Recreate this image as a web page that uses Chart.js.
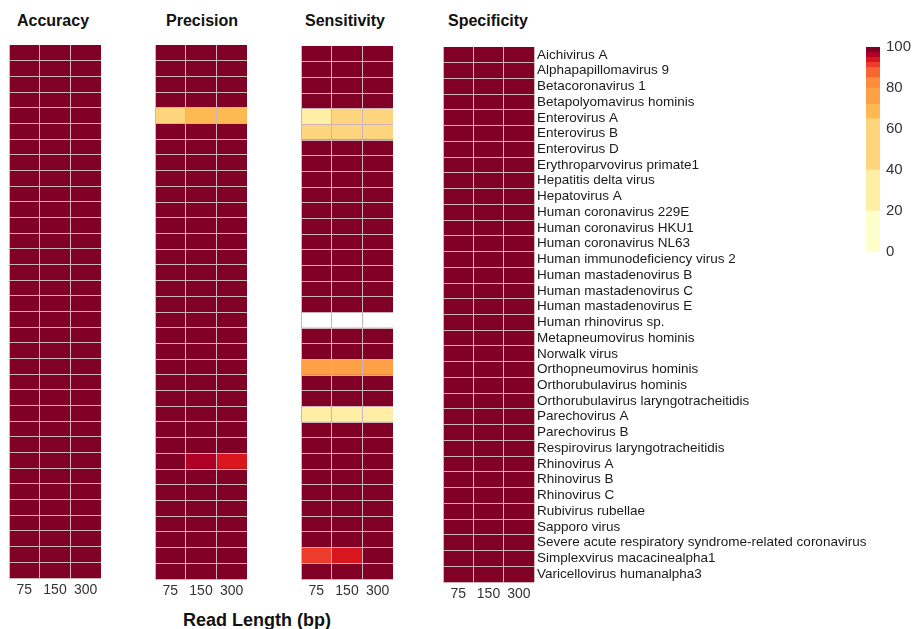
<!DOCTYPE html>
<html>
<head>
<meta charset="utf-8">
<script src="https://cdn.jsdelivr.net/npm/chart.js@4"></script>
<style>
body { margin: 0; background: #fff; width: 915px; height: 629px; position: relative; overflow: hidden; font-family: "Liberation Sans", Arial, sans-serif; }
canvas { position: absolute; }
.title { position: absolute; font-weight: bold; font-size: 16px; line-height: 18px; color: #111; transform: translateX(-50%); white-space: nowrap; }
</style>
</head>
<body>
<div class="title" style="left:53px;top:12px">Accuracy</div>
<div class="title" style="left:202px;top:12px">Precision</div>
<div class="title" style="left:345px;top:12px">Sensitivity</div>
<div class="title" style="left:488px;top:12px">Specificity</div>
<div class="title" style="left:257px;top:610px;font-size:18px;line-height:20px">Read Length (bp)</div>

<canvas id="accuracy" width="92" height="555" style="left:9px;top:45px"></canvas>
<canvas id="precision" width="92" height="556" style="left:155px;top:45px"></canvas>
<canvas id="sensitivity" width="92" height="555" style="left:301px;top:46px"></canvas>
<canvas id="specificity" width="471" height="557" style="left:443px;top:47px"></canvas>
<canvas id="colorbar" width="49" height="225" style="left:866px;top:37px"></canvas>

<script>
const readLengths = ['75', '150', '300']

const viruses = [
    'Aichivirus A', 'Alphapapillomavirus 9', 'Betacoronavirus 1', 'Betapolyomavirus hominis',
    'Enterovirus A', 'Enterovirus B', 'Enterovirus D', 'Erythroparvovirus primate1',
    'Hepatitis delta virus', 'Hepatovirus A', 'Human coronavirus 229E', 'Human coronavirus HKU1',
    'Human coronavirus NL63', 'Human immunodeficiency virus 2', 'Human mastadenovirus B',
    'Human mastadenovirus C', 'Human mastadenovirus E', 'Human rhinovirus sp.',
    'Metapneumovirus hominis', 'Norwalk virus', 'Orthopneumovirus hominis',
    'Orthorubulavirus hominis', 'Orthorubulavirus laryngotracheitidis', 'Parechovirus A',
    'Parechovirus B', 'Respirovirus laryngotracheitidis', 'Rhinovirus A', 'Rhinovirus B',
    'Rhinovirus C', 'Rubivirus rubellae', 'Sapporo virus',
    'Severe acute respiratory syndrome-related coronavirus', 'Simplexvirus macacinealpha1',
    'Varicellovirus humanalpha3'
]

// one row per virus: [75, 150, 300]
const accuracy = [
    [100, 100, 100], [100, 100, 100], [100, 100, 100], [100, 100, 100],
    [100, 100, 100], [100, 100, 100], [100, 100, 100], [100, 100, 100],
    [100, 100, 100], [100, 100, 100], [100, 100, 100], [100, 100, 100],
    [100, 100, 100], [100, 100, 100], [100, 100, 100], [100, 100, 100],
    [100, 100, 100], [100, 100, 100], [100, 100, 100], [100, 100, 100],
    [100, 100, 100], [100, 100, 100], [100, 100, 100], [100, 100, 100],
    [100, 100, 100], [100, 100, 100], [100, 100, 100], [100, 100, 100],
    [100, 100, 100], [100, 100, 100], [100, 100, 100], [100, 100, 100],
    [100, 100, 100], [100, 100, 100]
]

const precision = [
    [100, 100, 100], [100, 100, 100], [100, 100, 100], [100, 100, 100],
    [50, 68, 69], [100, 100, 100], [100, 100, 100], [100, 100, 100],
    [100, 100, 100], [100, 100, 100], [100, 100, 100], [100, 100, 100],
    [100, 100, 100], [100, 100, 100], [100, 100, 100], [100, 100, 100],
    [100, 100, 100], [100, 100, 100], [100, 100, 100], [100, 100, 100],
    [100, 100, 100], [100, 100, 100], [100, 100, 100], [100, 100, 100],
    [100, 100, 100], [100, 100, 100], [100, 96, 93], [100, 100, 100],
    [100, 100, 100], [100, 100, 100], [100, 100, 100], [100, 100, 100],
    [100, 100, 100], [100, 100, 100]
]

const sensitivity = [
    [100, 100, 100], [100, 100, 100], [100, 100, 100], [100, 100, 100],
    [38, 50, 50], [50, 50, 50], [100, 100, 100], [100, 100, 100],
    [100, 100, 100], [100, 100, 100], [100, 100, 100], [100, 100, 100],
    [100, 100, 100], [100, 100, 100], [100, 100, 100], [100, 100, 100],
    [100, 100, 100], [null, null, null], [100, 100, 100], [100, 100, 100],
    [75, 75, 75], [100, 100, 100], [100, 100, 100], [30, 32, 32],
    [100, 100, 100], [100, 100, 100], [100, 100, 100], [100, 100, 100],
    [100, 100, 100], [100, 100, 100], [100, 100, 100], [100, 100, 100],
    [91, 94, 100], [100, 100, 100]
]

const specificity = [
    [100, 100, 100], [100, 100, 100], [100, 100, 100], [100, 100, 100],
    [100, 100, 100], [100, 100, 100], [100, 100, 100], [100, 100, 100],
    [100, 100, 100], [100, 100, 100], [100, 100, 100], [100, 100, 100],
    [100, 100, 100], [100, 100, 100], [100, 100, 100], [100, 100, 100],
    [100, 100, 100], [100, 100, 100], [100, 100, 100], [100, 100, 100],
    [100, 100, 100], [100, 100, 100], [100, 100, 100], [100, 100, 100],
    [100, 100, 100], [100, 100, 100], [100, 100, 100], [100, 100, 100],
    [100, 100, 100], [100, 100, 100], [100, 100, 100], [100, 100, 100],
    [100, 100, 100], [100, 100, 100]
]

// colour key bands
const legendBreaks = [0, 20, 40, 65, 72, 80, 85, 90, 92.5, 95, 97.5, 100]
const legendColors = [
    '#FFFFCC', '#FFEFA6', '#FED57C', '#FEB953', '#FDA046', '#FD8D3C',
    '#F7662D', '#EF3B2C', '#D9151E', '#B00026', '#800026'
]

const lineColor = '#cdb3ba'

Chart.defaults.font.family = '"Liberation Sans", Arial, sans-serif'
Chart.defaults.animation = false

function cellColor(v) {
    if (v === null) return '#ffffff'
    for (let i = 0; i < legendColors.length; i++) {
        if (v <= legendBreaks[i + 1]) return legendColors[i]
    }
    return legendColors[legendColors.length - 1]
}

// keep the plot area exactly where the canvas puts it
function noPad(s) {
    s.paddingTop = 0
    s.paddingBottom = 0
    s.paddingLeft = 0
    s.paddingRight = 0
}

function heatmap(id, values, showNames) {
    const datasets = readLengths.map((len, j) => ({
        label: len,
        data: values.map(() => [j, j + 1]),
        backgroundColor: values.map(row => cellColor(row[j])),
        borderWidth: 0,
        categoryPercentage: 1,
        barPercentage: 1,
        grouped: false
    }))

    new Chart(document.getElementById(id), {
        type: 'bar',
        data: { labels: viruses, datasets: datasets },
        options: {
            indexAxis: 'y',
            responsive: false,
            events: [],
            layout: { padding: 0, autoPadding: false },
            plugins: {
                legend: { display: false },
                tooltip: { enabled: false }
            },
            scales: {
                x: {
                    type: 'linear',
                    min: 0,
                    max: 3,
                    grid: { color: lineColor, drawTicks: false, z: 1 },
                    border: { display: false },
                    ticks: { display: false, stepSize: 1 },
                    afterFit: s => { s.height = 0; noPad(s) }
                },
                x2: {
                    type: 'linear',
                    position: 'bottom',
                    min: 0,
                    max: 3,
                    grid: { display: false, drawTicks: false },
                    border: { display: false },
                    afterBuildTicks: s => { s.ticks = readLengths.map((l, j) => ({ value: j + 0.5 })) },
                    ticks: {
                        callback: (v, i) => readLengths[i],
                        color: '#333',
                        font: { size: 14 },
                        padding: 4,
                        autoSkip: false,
                        maxRotation: 0
                    },
                    afterFit: s => { s.height = 22; noPad(s) }
                },
                y: {
                    position: 'right',
                    grid: { color: lineColor, drawTicks: false, offset: true, z: 1 },
                    border: { display: false },
                    ticks: {
                        display: showNames,
                        autoSkip: false,
                        padding: 3,
                        color: '#1a1a1a',
                        font: { size: 13.5 }
                    },
                    afterFit: s => { s.width = showNames ? 380 : 0; noPad(s) }
                }
            }
        }
    })
}

heatmap('accuracy', accuracy, false)
heatmap('precision', precision, false)
heatmap('sensitivity', sensitivity, false)
heatmap('specificity', specificity, true)

new Chart(document.getElementById('colorbar'), {
    type: 'bar',
    data: {
        labels: [''],
        datasets: legendColors.map((c, i) => ({
            data: [[legendBreaks[i], legendBreaks[i + 1]]],
            backgroundColor: c,
            borderWidth: 0,
            categoryPercentage: 1,
            barPercentage: 1,
            grouped: false
        }))
    },
    options: {
        responsive: false,
        events: [],
        layout: { padding: { top: 10, bottom: 10, left: 0, right: 0 }, autoPadding: false },
        plugins: {
            legend: { display: false },
            tooltip: { enabled: false }
        },
        scales: {
            x: { display: false },
            y: {
                position: 'right',
                min: 0,
                max: 100,
                grid: { display: false, drawTicks: false },
                border: { display: false },
                ticks: { stepSize: 20, padding: 6, color: '#333', font: { size: 15 } },
                afterFit: s => { s.width = 35; noPad(s) }
            }
        }
    }
})
</script>
</body>
</html>
